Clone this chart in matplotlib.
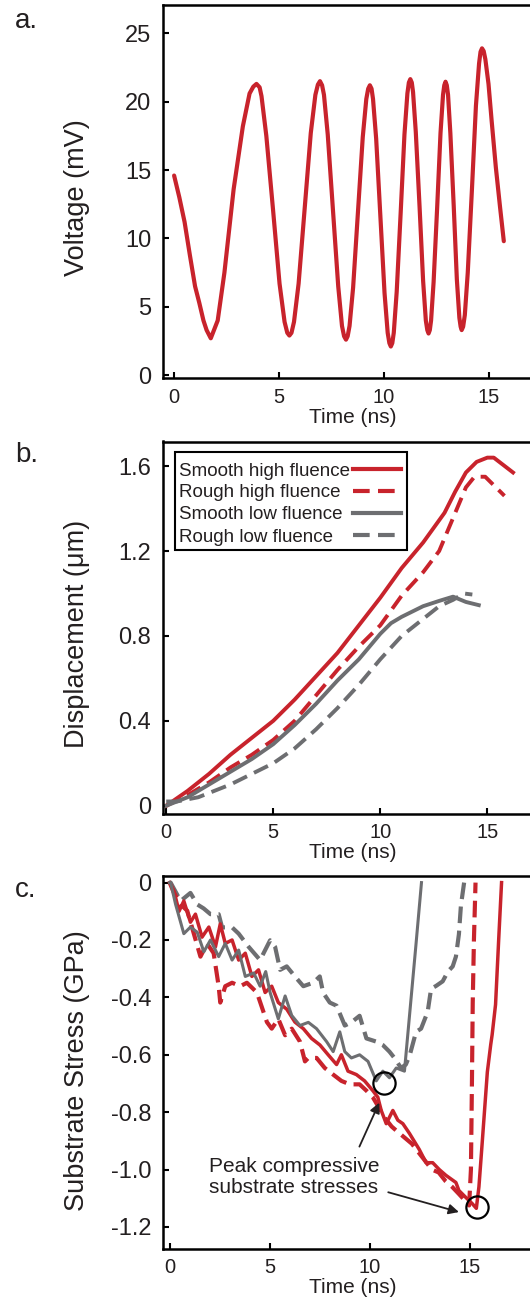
import matplotlib
matplotlib.use('Agg')
import matplotlib.pyplot as plt
from matplotlib.patches import Rectangle

plt.rcParams['font.family'] = ['Liberation Sans', 'DejaVu Sans']

RED = '#c8232c'
GREY = '#6d6e71'
INK = '#231f20'

# a. voltage trace (denser near the turning points)
time_a = [0.0, 0.25, 0.5, 0.75, 1.0, 1.2, 1.4, 1.55, 1.75,
          2.08, 2.4, 2.84, 3.28, 3.6, 3.78, 3.93,
          4.08, 4.17, 4.4, 4.72, 5.03, 5.27, 5.4, 5.5,
          5.6, 5.72, 5.94, 6.23, 6.52, 6.74, 6.86, 6.96,
          7.06, 7.15, 7.33, 7.58, 7.83, 8.01, 8.11, 8.2,
          8.28, 8.37, 8.54, 8.77, 9.0, 9.17, 9.26, 9.34,
          9.42, 9.49, 9.64, 9.84, 10.04, 10.19, 10.27, 10.34,
          10.41, 10.48, 10.62, 10.81, 10.99, 11.13, 11.2, 11.27,
          11.34, 11.4, 11.53, 11.71, 11.88, 12.01, 12.08, 12.14,
          12.2, 12.26, 12.38, 12.55, 12.71, 12.83, 12.89, 12.95,
          13.01, 13.07, 13.18, 13.34, 13.49, 13.61, 13.67, 13.72,
          13.79, 13.87, 14.01, 14.21, 14.4, 14.55, 14.62, 14.69,
          14.77, 14.85, 15.0, 15.15, 15.35, 15.55, 15.73]
voltage = [14.6, 13.0, 11.2, 8.8, 6.5, 5.3, 4.0, 3.3, 2.7,
           4.0, 7.5, 13.6, 18.2, 20.6, 21.1, 21.3,
           21.05, 20.4, 17.5, 12.1, 6.7, 3.9, 3.1, 2.9,
           3.1, 3.9, 6.7, 12.2, 17.7, 20.5, 21.25, 21.5,
           21.2, 20.5, 17.6, 12.05, 6.5, 3.6, 2.85, 2.6,
           2.85, 3.6, 6.4, 11.9, 17.4, 20.2, 20.95, 21.2,
           20.95, 20.2, 17.3, 11.65, 6.0, 3.1, 2.35, 2.1,
           2.35, 3.1, 6.1, 11.9, 17.6, 20.6, 21.4, 21.65,
           21.4, 20.7, 17.8, 12.35, 6.9, 4.0, 3.3, 3.05,
           3.3, 4.0, 6.8, 12.25, 17.7, 20.5, 21.2, 21.46,
           21.2, 20.5, 17.7, 12.4, 7.0, 4.2, 3.55, 3.3,
           3.55, 4.4, 7.5, 13.6, 19.7, 22.8, 23.65, 23.9,
           23.7, 23.1, 21.3, 18.6, 15.2, 12.3, 9.8]

# b. displacement
t_smooth_high = [0, 1, 2, 3, 4, 5, 6, 7, 8, 9, 10, 11, 12, 13, 13.5, 14, 14.5, 15, 15.3, 16.2]
d_smooth_high = [0, 0.07, 0.15, 0.24, 0.32, 0.40, 0.50, 0.61, 0.72, 0.85, 0.98, 1.12, 1.24,
                 1.38, 1.48, 1.57, 1.62, 1.64, 1.64, 1.57]
t_rough_high = [0, 1, 2, 3, 4, 5, 6, 7, 8, 9, 10, 11, 12, 12.75, 13.5, 14, 14.4, 14.9, 15.3, 15.8]
d_rough_high = [0, 0.05, 0.11, 0.18, 0.24, 0.31, 0.40, 0.52, 0.64, 0.75, 0.85, 0.99, 1.10,
                1.20, 1.38, 1.50, 1.55, 1.55, 1.51, 1.46]
t_smooth_low = [0, 1, 2, 3, 4, 5, 6, 7, 8, 9, 10, 10.5, 11, 12, 12.75, 13.4, 14, 14.6]
d_smooth_low = [0, 0.04, 0.10, 0.16, 0.22, 0.29, 0.38, 0.48, 0.59, 0.69, 0.81, 0.86, 0.89,
                0.94, 0.965, 0.985, 0.96, 0.945]
t_rough_low = [0, 0.5, 1, 1.5, 2, 3, 4, 5, 6, 7, 8, 9, 10, 11, 12, 12.75, 13.4, 13.9, 14.3]
d_rough_low = [0.02, 0.02, 0.03, 0.04, 0.06, 0.10, 0.15, 0.20, 0.27, 0.36, 0.46, 0.57, 0.69,
               0.80, 0.88, 0.94, 0.97, 1.0, 0.995]
legend_labels = ['Smooth high fluence', 'Rough high fluence',
                 'Smooth low fluence', 'Rough low fluence']

# c. substrate stress
ts_smooth_low = [0.0, 0.05, 0.3, 0.71, 1.04, 1.38, 1.71, 2.04, 2.45, 2.78, 3.12, 3.45, 3.78,
                 4.2, 4.52, 4.8, 5.02, 5.43, 5.77, 6.1, 6.51, 6.93, 7.34, 7.84, 8.17, 8.5,
                 8.75, 9.08, 9.49, 9.91, 10.32, 10.65, 10.98, 11.32, 11.73, 12.0, 12.3, 12.58]
s_smooth_low = [0.0, 0.0, -0.076, -0.178, -0.155, -0.173, -0.241, -0.2, -0.258, -0.212, -0.27,
                -0.235, -0.327, -0.315, -0.361, -0.31, -0.383, -0.475, -0.395, -0.463, -0.498,
                -0.487, -0.509, -0.554, -0.589, -0.52, -0.589, -0.611, -0.6, -0.623, -0.691,
                -0.657, -0.68, -0.646, -0.657, -0.45, -0.22, 0.0]
ts_rough_low = [0.0, 0.05, 0.55, 1.04, 1.38, 1.7, 2.04, 2.45, 2.62, 3.12, 3.45, 3.95, 4.52,
                5.02, 5.27, 5.52, 5.85, 6.26, 6.68, 7.17, 7.5, 7.67, 8.0, 8.34, 8.75, 9.08,
                9.49, 9.83, 10.32, 10.65, 10.98, 11.23, 11.56, 11.8, 12.0, 12.31, 12.56, 12.89,
                13.06, 13.31, 13.64, 13.9, 14.14, 14.3, 14.45, 14.55, 14.71]
s_rough_low = [0.0, 0.0, -0.064, -0.036, -0.076, -0.09, -0.11, -0.11, -0.156, -0.156, -0.178,
               -0.224, -0.27, -0.201, -0.224, -0.304, -0.292, -0.327, -0.361, -0.349, -0.327,
               -0.384, -0.418, -0.429, -0.498, -0.487, -0.464, -0.543, -0.554, -0.566, -0.589,
               -0.611, -0.646, -0.634, -0.6, -0.52, -0.509, -0.45, -0.37, -0.36, -0.344, -0.31,
               -0.292, -0.258, -0.18, -0.08, 0.0]
ts_smooth_high = [0.0, 0.22, 0.47, 0.71, 1.04, 1.29, 1.62, 1.96, 2.29, 2.53, 2.78, 3.12, 3.45,
                  3.78, 4.11, 4.44, 4.77, 5.1, 5.43, 5.85, 6.26, 6.68, 7.09, 7.51, 7.92, 8.34,
                  8.58, 8.91, 9.33, 9.74, 10.15, 10.4, 10.57, 10.82, 11.15, 11.4, 11.65, 11.98,
                  12.47, 12.81, 13.14, 13.47, 13.8, 14.3, 14.45, 14.78, 15.12, 15.32, 15.45,
                  15.62, 15.87, 16.04, 16.11, 16.28, 16.44, 16.58]
s_smooth_high = [0.0, -0.03, -0.1, -0.064, -0.138, -0.11, -0.19, -0.155, -0.224, -0.144, -0.212,
                 -0.2, -0.27, -0.246, -0.327, -0.304, -0.383, -0.361, -0.418, -0.441, -0.486,
                 -0.509, -0.543, -0.566, -0.6, -0.634, -0.6, -0.657, -0.669, -0.691, -0.725,
                 -0.748, -0.794, -0.84, -0.794, -0.828, -0.84, -0.874, -0.93, -0.976, -0.976,
                 -1.0, -1.02, -1.045, -1.073, -1.096, -1.119, -1.135, -1.06, -0.9, -0.66,
                 -0.564, -0.53, -0.425, -0.194, 0.0]
ts_rough_high = [0.0, 0.22, 0.55, 0.88, 1.21, 1.54, 1.87, 2.2, 2.45, 2.53, 2.78, 3.12, 3.53,
                 3.86, 4.36, 4.86, 5.1, 5.43, 5.77, 6.1, 6.51, 6.76, 6.93, 7.34, 7.75, 8.17,
                 8.58, 9.0, 9.49, 9.83, 10.15, 10.42, 10.75, 11.09, 11.42, 11.76, 12.1, 12.6,
                 13.1, 13.44, 13.78, 14.11, 14.45, 14.78, 14.96, 15.05, 15.1, 15.14, 15.2, 15.28]
s_rough_high = [0.0, -0.036, -0.076, -0.098, -0.178, -0.258, -0.212, -0.246, -0.361, -0.418,
                -0.361, -0.349, -0.361, -0.349, -0.383, -0.486, -0.509, -0.475, -0.532, -0.509,
                -0.554, -0.623, -0.611, -0.611, -0.646, -0.669, -0.691, -0.703, -0.703, -0.725,
                -0.748, -0.78, -0.82, -0.85, -0.87, -0.89, -0.91, -0.955, -1.0, -1.01, -1.04,
                -1.06, -1.085, -1.11, -1.125, -1.0, -0.7, -0.42, -0.2, 0.0]

# peak compressive stresses (circled)
peak_t = [10.72, 15.36]
peak_s = [-0.70, -1.13]

stress_ticks = [0, -0.2, -0.4, -0.6, -0.8, -1.0, -1.2]
stress_labels = ['0', '-0.2', '-0.4', '-0.6', '-0.8', '-1.0', '-1.2']
disp_ticks = [0, 0.4, 0.8, 1.2, 1.6]
disp_labels = ['0', '0.4', '0.8', '1.2', '1.6']

fig = plt.figure(figsize=(5.3, 13), dpi=100)
L, W = 163 / 530, 380 / 530
ax_a = fig.add_axes([L, 1 - 378.5 / 1300, W, 373.5 / 1300])
ax_b = fig.add_axes([L, 1 - 814 / 1300, W, 372.5 / 1300])
ax_c = fig.add_axes([L, 1 - 1248.5 / 1300, W, 372.5 / 1300])


def style(ax, ylabel, ly):
    for sp in ax.spines.values():
        sp.set_linewidth(1.8)
        sp.set_color('black')
    ax.tick_params(direction='in', length=4, width=1.5, color='black', labelcolor=INK)
    ax.tick_params(axis='y', labelsize=17, pad=8.5)
    ax.tick_params(axis='x', labelsize=14.5, pad=6.5)
    ax.set_xticks([0, 5, 10, 15])
    ax.set_xlabel('Time (ns)', fontsize=15, color=INK, labelpad=1)
    ax.set_ylabel(ylabel, fontsize=19.5, color=INK, va='center')
    ax.yaxis.set_label_coords(-0.226, ly)


# panel a
ax_a.plot(time_a, voltage, color=RED, lw=3, solid_capstyle='round', solid_joinstyle='round')
ax_a.set_xlim(-0.53, 17.6)
ax_a.set_ylim(-0.24, 27.07)
ax_a.set_yticks([0, 5, 10, 15, 20, 25])
style(ax_a, 'Voltage (mV)', 0.484)

# panel b
dash = (0, (4, 2))
series_b = [(t_smooth_high, d_smooth_high, RED, '-'),
            (t_rough_high, d_rough_high, RED, dash),
            (t_smooth_low, d_smooth_low, GREY, '-'),
            (t_rough_low, d_rough_low, GREY, dash)]
for t, d, c, ls in series_b:
    ax_b.plot(t, d, color=c, lw=2.8, ls=ls)
ax_b.set_xlim(-0.15, 17.6)
ax_b.set_ylim(-0.039, 1.716)
ax_b.set_yticks(disp_ticks)
ax_b.set_yticklabels(disp_labels)
style(ax_b, 'Displacement (\u03bcm)', 0.484)

# legend by hand: text left-aligned, line samples on the right
ax_b.add_patch(Rectangle((0.031, 0.709), 0.612, 0.262, transform=ax_b.transAxes,
                         facecolor='white', edgecolor='black', lw=1.5, zorder=5))
row_y = [0.926, 0.868, 0.809, 0.749]
for (t, d, c, ls), lab, y in zip(series_b, legend_labels, row_y):
    ax_b.text(0.042, y - 0.018, lab, transform=ax_b.transAxes, fontsize=13.5, color=INK,
              va='baseline', ha='left', zorder=6)
    ax_b.plot([0.5, 0.626], [y, y], transform=ax_b.transAxes, color=c, lw=3, ls=ls,
              zorder=6, clip_on=False)

# panel c
dash_c = (0, (4, 1.8))
ax_c.plot(ts_rough_low, s_rough_low, color=GREY, lw=3, ls=dash_c)
ax_c.plot(ts_rough_high, s_rough_high, color=RED, lw=3, ls=dash_c)
ax_c.plot(ts_smooth_high, s_smooth_high, color=RED, lw=2.5)
ax_c.plot(ts_smooth_low, s_smooth_low, color=GREY, lw=2.2)
ax_c.plot(peak_t, peak_s, 'o', ms=16, mfc='none', mec='black', mew=1.6)
ax_c.set_xlim(-0.33, 18.65)
ax_c.set_ylim(-1.275, 0.023)
ax_c.set_yticks(stress_ticks)
ax_c.set_yticklabels(stress_labels)
style(ax_c, 'Substrate Stress (GPa)', 0.477)

ax_c.text(1.98, -0.955, 'Peak compressive\nsubstrate stresses', fontsize=15, color=INK,
          ha='left', va='top', linespacing=1.15)
arrow = dict(arrowstyle='-|>', color=INK, lw=1.3, mutation_scale=15, shrinkA=0, shrinkB=0)
ax_c.annotate('', xy=(10.47, -0.767), xytext=(9.48, -0.92), arrowprops=arrow)
ax_c.annotate('', xy=(14.45, -1.148), xytext=(10.92, -1.079), arrowprops=arrow)

fig.text(15 / 530, 1 - 28 / 1300, 'a.', fontsize=20, color=INK, va='baseline')
fig.text(15 / 530, 1 - 462 / 1300, 'b.', fontsize=20, color=INK, va='baseline')
fig.text(15 / 530, 1 - 897 / 1300, 'c.', fontsize=20, color=INK, va='baseline')

fig.savefig('out.png', dpi=100)
